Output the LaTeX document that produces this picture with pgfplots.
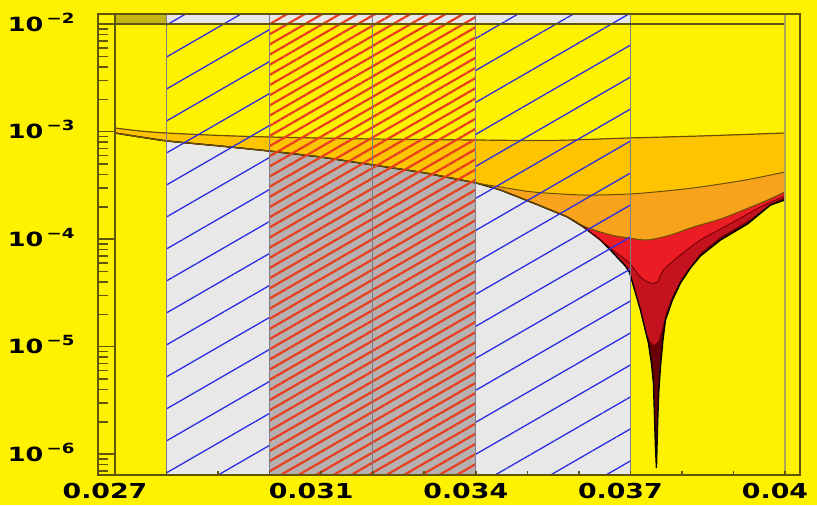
\documentclass[border=0pt]{standalone}
\usepackage{fontspec}
\setmainfont{DejaVu Sans}
\usepackage{graphicx}
\usepackage{pgfplots}
\pgfplotsset{compat=1.18}
\usepackage{pgfplotstable}
\usepgfplotslibrary{fillbetween}
\usetikzlibrary{patterns.meta}

\definecolor{bgy}{RGB}{255,242,0}
\definecolor{lor}{RGB}{255,196,0}
\definecolor{ora}{RGB}{247,163,28}
\definecolor{redA}{RGB}{236,28,36}
\definecolor{crim}{RGB}{196,18,30}
\definecolor{dred}{RGB}{105,0,0}
\definecolor{lgrey}{RGB}{232,232,232}
\definecolor{mgrey}{RGB}{182,176,176}
\definecolor{frame}{RGB}{95,85,10}
\definecolor{zone}{RGB}{125,125,140}
\definecolor{hblue}{RGB}{45,45,225}
\definecolor{hred}{RGB}{232,62,30}
\definecolor{olivey}{RGB}{195,182,20}
\definecolor{curve}{RGB}{105,80,0}
\definecolor{rframe}{RGB}{175,165,90}
\pagecolor{bgy}

\newcommand\ylab[1]{\scalebox{1.3}[1]{\fontsize{9.8}{10}\selectfont\bfseries 10\hspace{1.3pt}\raisebox{4pt}{\fontsize{7}{8}\selectfont −#1}}}
\newcommand\xlab[1]{\scalebox{1.3}[1]{\fontsize{10.3}{11}\selectfont\bfseries #1}}

\pgfplotstableread{
x y
0.027    1.082e-3
0.027485 1.015e-3
0.02801  9.72e-4
0.029039 9.22e-4
0.02999  8.93e-4
0.03201  8.55e-4
0.03401  8.37e-4
0.035447 8.28e-4
0.036981 8.74e-4
0.038359 9.12e-4
0.04     9.72e-4
}\Ttab

\pgfplotstableread{
x y
0.027    9.72e-4
0.027485 8.93e-4
0.02801  8.19e-4
0.029039 7.36e-4
0.02999  6.61e-4
0.030981 5.82e-4
0.03201  4.90e-4
0.033019 4.13e-4
0.03401  3.33e-4
0.034476 2.87e-4
0.035117 2.17e-4
0.035777 1.61e-4
0.036087 1.30e-4
0.036417 9.83e-5
0.036612 7.93e-5
0.036903 5.63e-5
0.036981 4.95e-5
0.037194 2.20e-5
0.037350 1.08e-5
0.037408 7.05e-6
0.037447 4.60e-6
0.037470 2.08e-6
0.037485 1.22e-6
0.037505 7.44e-7
0.037517 1.22e-6
0.037530 2.08e-6
0.037550 3.79e-6
0.037583 6.48e-6
0.037631 1.15e-5
0.037680 1.77e-5
0.037816 2.72e-5
0.037971 3.91e-5
0.038165 5.40e-5
0.038359 6.98e-5
0.038748 9.83e-5
0.039272 1.385e-4
0.039718 2.08e-4
0.04     2.32e-4
}\Lfive

\pgfplotstableread{
x y
0.027    9.72e-4
0.027485 8.93e-4
0.02801  8.19e-4
0.029039 7.36e-4
0.02999  6.61e-4
0.030981 5.82e-4
0.03201  4.90e-4
0.033019 4.13e-4
0.03401  3.33e-4
0.034476 2.87e-4
0.035117 2.17e-4
0.035777 1.61e-4
0.036087 1.30e-4
0.036417 9.83e-5
0.036612 7.93e-5
0.036903 5.63e-5
0.036981 4.95e-5
0.037194 2.20e-5
0.037311 1.34e-5
0.037388 1.106e-5
0.037466 1.037e-5
0.037544 1.130e-5
0.037621 1.49e-5
0.037699 2.10e-5
0.037816 2.96e-5
0.037971 4.17e-5
0.038165 5.63e-5
0.038359 7.44e-5
0.038748 1.048e-4
0.039272 1.477e-4
0.039718 2.126e-4
0.04     2.47e-4
}\Lfour

\pgfplotstableread{
x y
0.027    9.72e-4
0.027485 8.93e-4
0.02801  8.19e-4
0.029039 7.36e-4
0.02999  6.61e-4
0.030981 5.82e-4
0.03201  4.90e-4
0.033019 4.13e-4
0.03401  3.33e-4
0.034476 2.87e-4
0.035117 2.17e-4
0.035777 1.61e-4
0.036087 1.30e-4
0.036417 9.83e-5
0.036709 7.60e-5
0.036981 6.01e-5
0.037194 4.45e-5
0.037388 3.91e-5
0.037524 4.00e-5
0.037641 5.17e-5
0.037971 7.13e-5
0.038359 9.83e-5
0.038748 1.244e-4
0.039136 1.574e-4
0.039524 1.993e-4
0.04     2.523e-4
}\Lthree

\pgfplotstableread{
x y
0.027    9.72e-4
0.027485 8.93e-4
0.02801  8.19e-4
0.029039 7.36e-4
0.02999  6.61e-4
0.030981 5.82e-4
0.03201  4.90e-4
0.033019 4.13e-4
0.03401  3.33e-4
0.034476 2.87e-4
0.035117 2.17e-4
0.035777 1.61e-4
0.036087 1.327e-4
0.036417 1.167e-4
0.036709 1.071e-4
0.036981 1.026e-4
0.037330 9.83e-5
0.037777 1.094e-4
0.038223 1.299e-4
0.038748 1.541e-4
0.039194 1.869e-4
0.039621 2.266e-4
0.04     2.749e-4
}\Ltwo

\pgfplotstableread{
x y
0.027    9.72e-4
0.027485 8.93e-4
0.02801  8.19e-4
0.029039 7.36e-4
0.02999  6.61e-4
0.030981 5.82e-4
0.03201  4.90e-4
0.033019 4.13e-4
0.03401  3.33e-4
0.034476 3.059e-4
0.035117 2.749e-4
0.036087 2.577e-4
0.036981 2.633e-4
0.037680 2.808e-4
0.038359 3.059e-4
0.039233 3.553e-4
0.04     4.218e-4
}\Lone

\begin{document}
\begin{tikzpicture}
\path (0,0) rectangle (408.5pt,252.5pt);
\begin{axis}[
  at={(49pt,15pt)}, anchor=south west,
  scale only axis, width=351pt, height=230.5pt,
  xmin=0.02667, xmax=0.040291,
  ymode=log, ymin=6.4e-7, ymax=1.244e-2,
  axis on top,
  axis line style={draw=frame, line width=1pt},
  every tick/.style={draw=frame, line width=0.8pt},
  tick align=inside,
  xtick pos=lower, ytick pos=lower,
  scaled x ticks=false,
  xtick={0.027,0.031,0.034,0.037,0.04},
  xticklabels={\xlab{0.027},\xlab{0.031},\xlab{0.034},\xlab{0.037},\xlab{0.04}},
  minor xtick={0.028,0.029,0.03,0.032,0.033,0.035,0.036,0.038,0.039},
  xtick style={/pgfplots/major tick length=2pt,/pgfplots/minor tick length=2pt},
  ytick={1e-6,1e-5,1e-4,1e-3,1e-2},
  yticklabels={\ylab{6},\ylab{5},\ylab{4},\ylab{3},\ylab{2}},
  minor ytick={7e-7,8e-7,9e-7,2e-6,3e-6,4e-6,5e-6,6e-6,7e-6,8e-6,9e-6,2e-5,3e-5,4e-5,5e-5,6e-5,7e-5,8e-5,9e-5,2e-4,3e-4,4e-4,5e-4,6e-4,7e-4,8e-4,9e-4,2e-3,3e-3,4e-3,5e-3,6e-3,7e-3,8e-3,9e-3},
  ytick style={/pgfplots/major tick length=8.5pt,/pgfplots/minor tick length=5pt},
  xticklabel style={anchor=north, inner sep=0pt, yshift=-4pt, xshift=-5pt},
  yticklabel style={anchor=base east, inner sep=0pt, xshift=-11.5pt, yshift=-3.5pt},
]
% excluded (grey) zones, full height
\addplot[fill=lgrey, draw=none, on layer=pre main] coordinates {(0.028,6.4e-7) (0.030,6.4e-7) (0.030,1.244e-2) (0.028,1.244e-2)} -- cycle;
\addplot[fill=lgrey, draw=none, on layer=pre main] coordinates {(0.030,1e-2) (0.034,1e-2) (0.034,1.244e-2) (0.030,1.244e-2)} -- cycle;
\addplot[fill=mgrey, draw=none, on layer=pre main] coordinates {(0.030,6.4e-7) (0.034,6.4e-7) (0.034,1e-2) (0.030,1e-2)} -- cycle;
\addplot[fill=lgrey, draw=none, on layer=pre main] coordinates {(0.034,6.4e-7) (0.037,6.4e-7) (0.037,1.244e-2) (0.034,1.244e-2)} -- cycle;
\addplot[fill=olivey, draw=none, on layer=pre main] coordinates {(0.027,1e-2) (0.028,1e-2) (0.028,1.244e-2) (0.027,1.244e-2)} -- cycle;

% helper paths
\addplot[draw=none, name path=TL] coordinates {(0.027,1e-2) (0.04,1e-2)};
\addplot[draw=none, smooth, name path=T] table {\Ttab};
\addplot[draw=none, name path=L5] table {\Lfive};
\addplot[draw=none, name path=L4] table {\Lfour};
\addplot[draw=none, smooth, name path=L3] table {\Lthree};
\addplot[draw=none, smooth, name path=L2] table {\Ltwo};
\addplot[draw=none, smooth, name path=L1] table {\Lone};

% allowed region above the bands
\addplot[fill=bgy] fill between[of=TL and T];
% bands
\addplot[fill=dred] fill between[of=T and L5];
\addplot[fill=crim] fill between[of=T and L4];
\addplot[fill=redA] fill between[of=T and L3];
\addplot[fill=ora] fill between[of=T and L2];
\addplot[fill=lor] fill between[of=T and L1];

% curves
\addplot[black, line width=0.7pt] table {\Lfive};
\addplot[dred, line width=0.4pt, smooth] table {\Lthree};
\addplot[curve, line width=0.5pt, smooth] table {\Ltwo};
\addplot[curve, line width=0.5pt, smooth] table {\Lone};
\addplot[curve, line width=0.6pt, smooth] table {\Ttab};

% hatched regions
\addplot[draw=none, pattern={Lines[angle=30,distance=13.85pt,line width=0.65pt]}, pattern color=hblue]
  coordinates {(0.028,6.4e-7) (0.030,6.4e-7) (0.030,1.244e-2) (0.028,1.244e-2)} -- cycle;
\addplot[draw=none, pattern={Lines[angle=30,distance=13.85pt,line width=0.65pt]}, pattern color=hblue]
  coordinates {(0.034,6.4e-7) (0.037,6.4e-7) (0.037,1.244e-2) (0.034,1.244e-2)} -- cycle;
\addplot[draw=none, fill opacity=0.75, pattern={Lines[angle=30,distance=4.4pt,line width=1.1pt]}, pattern color=hred]
  coordinates {(0.030,6.4e-7) (0.034,6.4e-7) (0.034,1.244e-2) (0.030,1.244e-2)} -- cycle;

% zone boundaries
\addplot[zone, line width=0.6pt] coordinates {(0.028,6.4e-7) (0.028,1.244e-2)};
\addplot[zone, line width=0.6pt] coordinates {(0.030,6.4e-7) (0.030,1.244e-2)};
\addplot[zone, line width=0.6pt] coordinates {(0.032,6.4e-7) (0.032,1.244e-2)};
\addplot[zone, line width=0.6pt] coordinates {(0.034,6.4e-7) (0.034,1.244e-2)};
\addplot[zone, line width=0.6pt] coordinates {(0.037,6.4e-7) (0.037,1.244e-2)};

% inner frame
\addplot[frame, line width=0.8pt] coordinates {(0.027,6.4e-7) (0.027,1.244e-2)};
\addplot[frame, line width=0.8pt] coordinates {(0.02667,1e-2) (0.04,1e-2)};
\addplot[rframe, line width=0.9pt] coordinates {(0.04,6.4e-7) (0.04,1.244e-2)};
\end{axis}
\end{tikzpicture}
\end{document}
